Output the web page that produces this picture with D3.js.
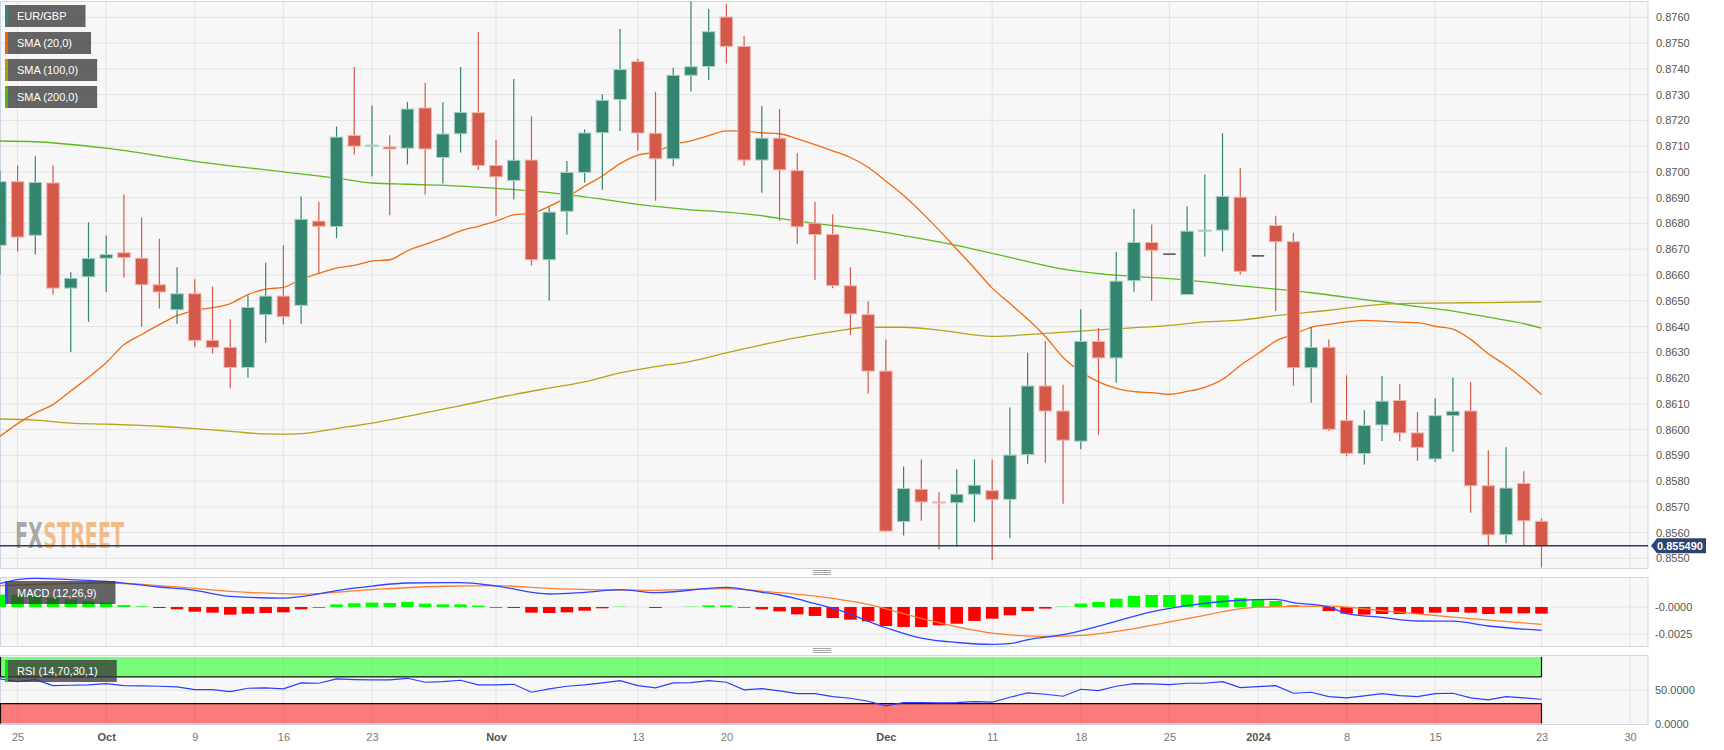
<!DOCTYPE html>
<html>
<head>
<meta charset="utf-8">
<script src="https://d3js.org/d3.v7.min.js"></script>
<style>
    body { margin: 0; background: #fff; }
    svg { display: block; font-family: "Liberation Sans", Arial, sans-serif; }
    .gridlines line { stroke: #e3e3e3; }
</style>
</head>
<body>
<svg id="chart" width="1724" height="750"></svg>
<script>
// ---- data (bar 0 = 22 Sep 2023, one bar per weekday) ----
const open = [
    0.86715, 0.86962, 0.86754, 0.86957, 0.86549, 0.86593, 0.86665, 0.86686, 0.86665, 0.86562,
    0.86465, 0.86527, 0.86346, 0.86319, 0.86241, 0.86446, 0.86518, 0.86482, 0.86809, 0.86788,
    0.87141, 0.87100, 0.87097, 0.87092, 0.87248, 0.87056, 0.87148, 0.87230, 0.87025, 0.86967,
    0.87046, 0.86659, 0.86847, 0.86998, 0.87152, 0.87281, 0.87428, 0.87150, 0.87051, 0.87375,
    0.87409, 0.87601, 0.87487, 0.87046, 0.87131, 0.87005, 0.86801, 0.86757, 0.86558, 0.86446,
    0.86227, 0.85643, 0.85768, 0.85719, 0.85716, 0.85749, 0.85763, 0.85729, 0.85903, 0.86169,
    0.86072, 0.85955, 0.86342, 0.86278, 0.86578, 0.86726, 0.86681, 0.86524, 0.86770, 0.86774,
    0.86902, 0.86674, 0.86792, 0.86729, 0.86240, 0.86319, 0.86035, 0.85907, 0.86018, 0.86113,
    0.85987, 0.85886, 0.86054, 0.86072, 0.85782, 0.85592, 0.85791, 0.85644
];
const high = [
    0.87004, 0.87025, 0.87061, 0.87025, 0.86611, 0.86804, 0.86753, 0.86912, 0.86823, 0.86741,
    0.86630, 0.86583, 0.86555, 0.86428, 0.86520, 0.86647, 0.86715, 0.86905, 0.86883, 0.87176,
    0.87407, 0.87258, 0.87142, 0.87272, 0.87346, 0.87270, 0.87407, 0.87544, 0.87124, 0.87361,
    0.87216, 0.86863, 0.87042, 0.87166, 0.87301, 0.87555, 0.87439, 0.87311, 0.87404, 0.87661,
    0.87632, 0.87651, 0.87527, 0.87255, 0.87244, 0.87072, 0.86883, 0.86835, 0.86630, 0.86498,
    0.86350, 0.85857, 0.85884, 0.85757, 0.85846, 0.85884, 0.85884, 0.86086, 0.86298, 0.86343,
    0.86174, 0.86467, 0.86394, 0.86689, 0.86856, 0.86796, 0.86681, 0.86867, 0.86990, 0.87150,
    0.87015, 0.86674, 0.86830, 0.86764, 0.86397, 0.86350, 0.86210, 0.86075, 0.86208, 0.86178,
    0.86068, 0.86121, 0.86202, 0.86185, 0.85920, 0.85931, 0.85838, 0.85655
];
const low = [
    0.86602, 0.86691, 0.86679, 0.86524, 0.86301, 0.86418, 0.86534, 0.86590, 0.86400, 0.86470,
    0.86411, 0.86319, 0.86295, 0.86160, 0.86202, 0.86337, 0.86408, 0.86411, 0.86606, 0.86743,
    0.87068, 0.86983, 0.86832, 0.87029, 0.86912, 0.86955, 0.87075, 0.87007, 0.86828, 0.86894,
    0.86637, 0.86501, 0.86757, 0.86959, 0.86931, 0.87159, 0.87082, 0.86888, 0.87022, 0.87312,
    0.87357, 0.87421, 0.87025, 0.86919, 0.86809, 0.86719, 0.86580, 0.86548, 0.86366, 0.86140,
    0.85602, 0.85589, 0.85646, 0.85535, 0.85545, 0.85641, 0.85493, 0.85578, 0.85867, 0.85871,
    0.85712, 0.85924, 0.85980, 0.86182, 0.86535, 0.86500, 0.86681, 0.86524, 0.86672, 0.86691,
    0.86602, 0.86674, 0.86460, 0.86171, 0.86104, 0.85994, 0.85896, 0.85864, 0.85956, 0.85956,
    0.85879, 0.85874, 0.85914, 0.85677, 0.85552, 0.85559, 0.85549, 0.85465
];
const close = [
    0.86962, 0.86747, 0.86959, 0.86549, 0.86587, 0.86664, 0.86679, 0.86668, 0.86562, 0.86534,
    0.86527, 0.86346, 0.86319, 0.86241, 0.86474, 0.86518, 0.86438, 0.86816, 0.86789, 0.87135,
    0.87100, 0.87104, 0.87089, 0.87244, 0.87089, 0.87147, 0.87231, 0.87025, 0.86981, 0.87045,
    0.86659, 0.86844, 0.86998, 0.87151, 0.87278, 0.87397, 0.87151, 0.87051, 0.87375, 0.87408,
    0.87544, 0.87487, 0.87046, 0.87131, 0.87008, 0.86787, 0.86757, 0.86559, 0.86449, 0.86227,
    0.85606, 0.85771, 0.85719, 0.85715, 0.85749, 0.85784, 0.85729, 0.85901, 0.86169, 0.86072,
    0.85959, 0.86342, 0.86278, 0.86576, 0.86726, 0.86696, 0.86681, 0.86770, 0.86774, 0.86905,
    0.86614, 0.86674, 0.86729, 0.86240, 0.86319, 0.86001, 0.85907, 0.86016, 0.86110, 0.85987,
    0.85931, 0.86054, 0.86071, 0.85782, 0.85592, 0.85773, 0.85646, 0.85549
];
const sma20 = [
    0.85973, 0.86023, 0.86065, 0.86097, 0.86150, 0.86202, 0.86260, 0.86329, 0.86369, 0.86407,
    0.86442, 0.86463, 0.86473, 0.86489, 0.86524, 0.86545, 0.86552, 0.86583, 0.86606, 0.86627,
    0.86637, 0.86654, 0.86659, 0.86694, 0.86719, 0.86743, 0.86771, 0.86789, 0.86809, 0.86833,
    0.86839, 0.86866, 0.86901, 0.86945, 0.86984, 0.87032, 0.87065, 0.87077, 0.87106, 0.87120,
    0.87141, 0.87159, 0.87158, 0.87152, 0.87148, 0.87128, 0.87106, 0.87082, 0.87056, 0.87018,
    0.86964, 0.86908, 0.86844, 0.86774, 0.86700, 0.86626, 0.86549, 0.86489, 0.86429, 0.86361,
    0.86280, 0.86225, 0.86185, 0.86160, 0.86147, 0.86143, 0.86137, 0.86148, 0.86164, 0.86195,
    0.86249, 0.86295, 0.86343, 0.86369, 0.86397, 0.86408, 0.86418, 0.86424, 0.86421, 0.86417,
    0.86415, 0.86401, 0.86390, 0.86350, 0.86294, 0.86249, 0.86195, 0.86136
];
// [bar, value] read where the line was clear
const sma100 = [
    [0, 0.86041], [2, 0.86037], [4, 0.86025], [6, 0.86021], [8, 0.86016], [11, 0.86004], [13, 0.85993],
    [15, 0.85983], [16, 0.85982], [17, 0.85984], [19, 0.86004], [21, 0.86025], [23, 0.86051], [25, 0.86079],
    [27, 0.86107], [29, 0.86136], [31, 0.86161], [33, 0.86185], [35, 0.86220], [37, 0.86244], [39, 0.86265],
    [41, 0.86298], [43, 0.86329], [45, 0.86357], [47, 0.86380], [49, 0.86397], [51, 0.86397], [53, 0.86386],
    [56, 0.86362], [59, 0.86373], [62, 0.86387], [66, 0.86404], [68, 0.86418], [70, 0.86425], [72, 0.86442],
    [75, 0.86463], [78, 0.86486], [81, 0.86491], [84, 0.86493], [87, 0.86496]
];
const sma200 = [
    [0, 0.87120], [2, 0.87117], [6, 0.87092], [11, 0.87041], [16, 0.87000], [19, 0.86976], [21, 0.86957],
    [23, 0.86952], [26, 0.86945], [28, 0.86936], [30, 0.86926], [32, 0.86912], [34, 0.86894], [36, 0.86874],
    [37, 0.86866], [39, 0.86853], [41, 0.86844], [43, 0.86830], [45, 0.86809], [47, 0.86792], [49, 0.86775],
    [51, 0.86753], [54, 0.86715], [57, 0.86668], [60, 0.86623], [63, 0.86599], [66, 0.86586], [68, 0.86573],
    [70, 0.86558], [72, 0.86545], [74, 0.86531], [76, 0.86513], [78, 0.86496], [80, 0.86477], [82, 0.86460],
    [84, 0.86436], [86, 0.86411], [87, 0.86394]
];
const macdLine = [
    [0, 0.00214], [1, 0.00250], [2, 0.00263], [4, 0.00250], [6, 0.00235], [9, 0.00183], [11, 0.00153],
    [13, 0.00098], [16, 0.00082], [18, 0.00120], [19, 0.00150], [21, 0.00192], [23, 0.00220], [26, 0.00223],
    [28, 0.00192], [31, 0.00119], [33, 0.00133], [35, 0.00159], [37, 0.00131], [41, 0.00180], [43, 0.00135],
    [44, 0.00110], [45, 0.00075], [46, 0.00030], [47, -0.00010], [50, -0.00190], [52, -0.00285], [54, -0.00325],
    [56, -0.00342], [57, -0.00335], [58, -0.00300], [60, -0.00253], [62, -0.00175], [65, -0.00045], [67, 0.00012],
    [70, 0.00062], [72, 0.00070], [73, 0.00040], [75, 0.00000], [76, -0.00060], [78, -0.00095], [80, -0.00128],
    [82, -0.00130], [84, -0.00174], [87, -0.00214]
];
const macdSignal = [
    [0, 0.00195], [4, 0.00215], [6, 0.00220], [9, 0.00196], [13, 0.00143], [17, 0.00118], [21, 0.00160],
    [25, 0.00190], [28, 0.00195], [31, 0.00170], [34, 0.00157], [37, 0.00153], [41, 0.00168], [43, 0.00145],
    [46, 0.00100], [49, 0.00025], [52, -0.00105], [56, -0.00240], [59, -0.00269], [61, -0.00260], [63, -0.00223],
    [67, -0.00107], [71, -0.00002], [75, 0.00008], [78, -0.00033], [82, -0.00092], [87, -0.00159]
];
const macdHist = [
    0.00113, 0.00110, 0.00100, 0.00085, 0.00070, 0.00052, 0.00040, 0.00018, 0.00006, -0.00009,
    -0.00021, -0.00043, -0.00052, -0.00070, -0.00061, -0.00055, -0.00049, -0.00021, -0.00006, 0.00024,
    0.00034, 0.00040, 0.00037, 0.00046, 0.00031, 0.00024, 0.00024, 0.00012, -0.00006, -0.00009,
    -0.00052, -0.00055, -0.00049, -0.00034, -0.00012, 0.00003, 0, -0.00009, 0, 0.00003,
    0.00015, 0.00015, -0.00006, -0.00021, -0.00040, -0.00067, -0.00082, -0.00101, -0.00116, -0.00131,
    -0.00174, -0.00183, -0.00183, -0.00168, -0.00153, -0.00128, -0.00107, -0.00076, -0.00037, -0.00015,
    0.00003, 0.00031, 0.00046, 0.00076, 0.00101, 0.00110, 0.00110, 0.00113, 0.00107, 0.00107,
    0.00082, 0.00067, 0.00055, 0.00018, 0.00003, -0.00037, -0.00061, -0.00070, -0.00064, -0.00064,
    -0.00064, -0.00052, -0.00046, -0.00052, -0.00064, -0.00058, -0.00058, -0.00061
];
const rsi = [
    67, 63, 66, 57, 57.5, 58, 60, 57, 56.5, 56,
    55, 51, 51, 48, 53, 53.5, 52, 61, 60.5, 67,
    66, 65.5, 65.5, 68, 62, 63, 65, 58, 58, 59,
    47, 52, 56, 58, 61, 64.5, 57, 53.5, 61, 61.5,
    64.5, 62, 50.5, 52.5, 49, 45, 45, 40.5, 38, 33.5,
    26.5, 31.5, 31.5, 31, 31.5, 33, 32, 39.5, 46, 44,
    41, 51.5, 49.5, 56, 60, 59.5, 58.5, 60.5, 60.5, 63,
    54, 55.5, 57, 45.5, 47, 40.5, 38.5, 41.5, 45, 42,
    40.5, 45, 45.5, 38.5, 35.5, 40.5, 38.5, 36.5
];
const lastPrice = 0.855490;

const tickDates = ["2023-09-25", "2023-10-02", "2023-10-09", "2023-10-16", "2023-10-23", "2023-11-01",
    "2023-11-13", "2023-11-20", "2023-12-01", "2023-12-11", "2023-12-18", "2023-12-25", "2024-01-01",
    "2024-01-08", "2024-01-15", "2024-01-23", "2024-01-30"];
const tickLabels = ["25", "Oct", "9", "16", "23", "Nov", "13", "20", "Dec", "11", "18", "25", "2024", "8", "15", "23", "30"];
const boldLabels = ["Oct", "Nov", "Dec", "2024"];
const priceTicks = d3.range(0, 22).map(j => +(0.855 + j * 0.001).toFixed(3));
const macdTicks = [0, -0.0025];
const rsiTicks = [50, 0];

const legendItems = [
    {label: "EUR/GBP", color: "#2e8a75"},
    {label: "SMA (20,0)", color: "#f06400"},
    {label: "SMA (100,0)", color: "#b29c00"},
    {label: "SMA (200,0)", color: "#55b800"}
];

// ---- layout ----
const svg = d3.select("svg#chart");
const plotRight = 1648;
const paneMain = [1, 568], paneMacd = [577, 646], paneRsi = [655, 724];

// weekday calendar
const fmt = d3.utcFormat("%Y-%m-%d");
const dates = d3.utcDay.range(new Date(Date.UTC(2023, 8, 22)), new Date(Date.UTC(2024, 1, 1)))
    .filter(d => d.getUTCDay() % 6 !== 0);
const barOf = s => dates.findIndex(d => fmt(d) === s);
const tickBars = tickDates.map(barOf);

const x = d3.scaleLinear().domain([1, 87]).range([17.6, 1541.5]);
const yPrice = d3.scaleLinear().domain([0.855, 0.876]).range([558.4, 17.3]);
const yMacd = d3.scaleLinear().domain([-0.0025, 0]).range([634.3, 607]);
const yRsi = d3.scaleLinear().domain([0, 100]).range([723.5, 657]);

const defs = svg.append("defs");
[["clipMain", paneMain], ["clipMacd", paneMacd], ["clipRsi", paneRsi]].forEach(([id, p]) => {
    defs.append("clipPath").attr("id", id).append("rect")
        .attr("x", 0).attr("y", p[0]).attr("width", plotRight).attr("height", p[1] - p[0]);
});

// pane backgrounds
[paneMain, paneMacd, paneRsi].forEach(p => {
    svg.append("rect").attr("x", 0.5).attr("y", p[0] + 0.5)
        .attr("width", plotRight - 0.5).attr("height", p[1] - p[0])
        .attr("fill", "#f7f7f7").attr("stroke", "#cfd5e4");
});

// gridlines
const grid = svg.append("g").attr("class", "gridlines");
[paneMain, paneMacd, paneRsi].forEach(p => {
    grid.selectAll(null).data(tickBars).enter().append("line")
        .attr("x1", d => x(d)).attr("x2", d => x(d))
        .attr("y1", p[0] + 1).attr("y2", p[1]);
});
grid.selectAll(null).data(priceTicks).enter().append("line")
    .attr("x1", 1).attr("x2", plotRight).attr("y1", d => yPrice(d)).attr("y2", d => yPrice(d));
grid.selectAll(null).data(macdTicks).enter().append("line")
    .attr("x1", 1).attr("x2", plotRight).attr("y1", d => yMacd(d)).attr("y2", d => yMacd(d));
grid.selectAll(null).data(rsiTicks.filter(d => d > 0)).enter().append("line")
    .attr("x1", 1).attr("x2", plotRight).attr("y1", d => yRsi(d)).attr("y2", d => yRsi(d));

// watermark: squeezed horizontally to ~109px, second word starts where the first ends
const wm = svg.append("g")
    .attr("font-family", "'Liberation Sans Narrow', 'DejaVu Sans Condensed', sans-serif")
    .attr("font-weight", "bold").attr("font-size", 36);
const wmFx = wm.append("text").attr("x", 0).text("FX")
    .attr("fill", "#8f8f8f").attr("fill-opacity", 0.75);
const fxW = wmFx.node().getComputedTextLength();
const wmSt = wm.append("text").attr("x", fxW + 1).text("STREET")
    .attr("fill", "#f2b274").attr("fill-opacity", 0.85);
const wmScale = 109 / (fxW + 1 + wmSt.node().getComputedTextLength());
wm.attr("transform", `translate(15,548) scale(${wmScale},1)`);

// ---- main pane ----
const main = svg.append("g").attr("clip-path", "url(#clipMain)");

const priceLine = d3.line().x(d => x(d[0])).y(d => yPrice(d[1])).curve(d3.curveMonotoneX);
main.append("path").datum(sma200).attr("d", priceLine)
    .attr("fill", "none").attr("stroke", "#5cba1e").attr("stroke-width", 1.3);
main.append("path").datum(sma100).attr("d", priceLine)
    .attr("fill", "none").attr("stroke", "#b8a419").attr("stroke-width", 1.3);
main.append("path").datum(sma20.map((v, k) => [k, v])).attr("d", priceLine)
    .attr("fill", "none").attr("stroke", "#f26b12").attr("stroke-width", 1.3);

const bars = open.map((o, k) => ({k, o, h: high[k], l: low[k], c: close[k]}));
const upFill = "#33856f", upEdge = "#a9d2c7", downFill = "#d5594a", downEdge = "#f1b6ad";
const bodyW = 12.5;

const candle = main.selectAll("g.candle").data(bars).enter().append("g").attr("class", "candle");
candle.filter(d => d.h !== d.l).append("line")
    .attr("x1", d => x(d.k)).attr("x2", d => x(d.k))
    .attr("y1", d => yPrice(d.h)).attr("y2", d => yPrice(d.l))
    .attr("stroke", d => d.c >= d.o ? upFill : downFill).attr("stroke-width", 1.2);
candle.filter(d => d.h !== d.l).append("rect")
    .attr("x", d => x(d.k) - bodyW / 2)
    .attr("y", d => yPrice(Math.max(d.o, d.c)))
    .attr("width", bodyW)
    .attr("height", d => Math.max(1, yPrice(Math.min(d.o, d.c)) - yPrice(Math.max(d.o, d.c))))
    .attr("fill", d => d.c >= d.o ? upFill : downFill)
    .attr("stroke", d => d.c >= d.o ? upEdge : downEdge).attr("stroke-width", 1);
// holiday bars with no range
candle.filter(d => d.h === d.l).append("line")
    .attr("x1", d => x(d.k) - bodyW / 2).attr("x2", d => x(d.k) + bodyW / 2)
    .attr("y1", d => yPrice(d.c)).attr("y2", d => yPrice(d.c))
    .attr("stroke", "#222").attr("stroke-width", 1.2);

// current price line
svg.append("line").attr("x1", 0).attr("x2", plotRight)
    .attr("y1", yPrice(lastPrice)).attr("y2", yPrice(lastPrice))
    .attr("stroke", "#2c3e5e").attr("stroke-width", 1.3);

// ---- MACD pane ----
const macdG = svg.append("g").attr("clip-path", "url(#clipMacd)");
macdG.selectAll("rect").data(macdHist).enter().append("rect")
    .attr("x", (d, k) => x(k) - bodyW / 2)
    .attr("y", d => yMacd(Math.max(0, d)))
    .attr("width", bodyW)
    .attr("height", d => Math.abs(yMacd(d) - yMacd(0)))
    .attr("fill", d => d >= 0 ? "#00ff00" : "#ff0000");
const macdPath = d3.line().x(d => x(d[0])).y(d => yMacd(d[1])).curve(d3.curveMonotoneX);
macdG.append("path").datum(macdSignal).attr("d", macdPath)
    .attr("fill", "none").attr("stroke", "#ff7f2a").attr("stroke-width", 1.3);
macdG.append("path").datum(macdLine).attr("d", macdPath)
    .attr("fill", "none").attr("stroke", "#2f45ff").attr("stroke-width", 1.3);

// ---- RSI pane ----
const rsiG = svg.append("g").attr("clip-path", "url(#clipRsi)");
const bandEnd = x(87);
rsiG.append("rect").attr("x", 0).attr("y", yRsi(100)).attr("width", bandEnd).attr("height", yRsi(70) - yRsi(100))
    .attr("fill", "rgba(0,255,0,0.5)");
rsiG.append("rect").attr("x", 0).attr("y", yRsi(30)).attr("width", bandEnd).attr("height", yRsi(0) - yRsi(30))
    .attr("fill", "rgba(255,0,0,0.5)");
[[70, 100], [0, 30]].forEach(([a, b]) => {
    rsiG.append("path")
        .attr("d", `M0.5,${yRsi(b)}V${yRsi(a)}M${bandEnd},${yRsi(b)}V${yRsi(a)}`)
        .attr("stroke", "#111").attr("stroke-width", 1.2).attr("fill", "none");
});
[70, 30].forEach(v => {
    rsiG.append("line").attr("x1", 0).attr("x2", bandEnd).attr("y1", yRsi(v)).attr("y2", yRsi(v))
        .attr("stroke", "#111").attr("stroke-width", 1.2);
});
rsiG.append("path").datum(rsi.map((v, k) => [k, v]))
    .attr("d", d3.line().x(d => x(d[0])).y(d => yRsi(d[1])))
    .attr("fill", "none").attr("stroke", "#2a3dff").attr("stroke-width", 1.2);

// ---- axes ----
const fixMinus = s => s.replace("\u2212", "-");
const styleAxis = g => {
    g.select(".domain").remove();
    g.selectAll("text").attr("fill", "#555").attr("font-size", 11)
        .attr("font-family", "'Liberation Sans', Arial, sans-serif");
};
svg.append("g").attr("transform", `translate(${plotRight},0)`)
    .call(d3.axisRight(yPrice).tickValues(priceTicks).tickSize(0).tickPadding(8).tickFormat(d3.format(".4f")))
    .call(styleAxis);
svg.append("g").attr("transform", `translate(${plotRight},0)`)
    .call(d3.axisRight(yMacd).tickValues(macdTicks).tickSize(0).tickPadding(7)
        .tickFormat(d => d === 0 ? "-0.0000" : fixMinus(d3.format(".4f")(d))))
    .call(styleAxis);
svg.append("g").attr("transform", `translate(${plotRight},0)`)
    .call(d3.axisRight(yRsi).tickValues(rsiTicks).tickSize(0).tickPadding(7).tickFormat(d3.format(".4f")))
    .call(styleAxis);
svg.append("g").attr("transform", `translate(0,${paneRsi[1]})`)
    .call(d3.axisBottom(x).tickValues(tickBars).tickSize(0).tickPadding(9).tickFormat((d, i) => tickLabels[i]))
    .call(styleAxis)
    .call(g => g.selectAll("text")
        .attr("fill", (d, i) => boldLabels.includes(tickLabels[i]) ? "#555" : "#777")
        .attr("font-weight", (d, i) => boldLabels.includes(tickLabels[i]) ? "bold" : "normal"));

// last price tag
const tagY = yPrice(lastPrice);
svg.append("path")
    .attr("d", `M1651,${tagY} L1657,${tagY - 7.5} H1706 V${tagY + 7.5} H1657 Z`)
    .attr("fill", "#2b4570");
svg.append("text").attr("x", 1657).attr("y", tagY + 4).text(lastPrice.toFixed(6))
    .attr("fill", "#fff").attr("font-size", 11).attr("font-weight", "bold");

// ---- legend boxes ----
function labelBox(x0, y0, h, text, color) {
    const g = svg.append("g");
    const rect = g.append("rect").attr("x", x0).attr("y", y0).attr("height", h).attr("fill", "rgba(54,54,54,0.76)");
    const t = g.append("text").attr("x", x0 + 12).attr("y", y0 + h / 2 + 4).text(text)
        .attr("fill", "#fff").attr("font-size", 11);
    rect.attr("width", t.node().getComputedTextLength() + 31);
    g.append("rect").attr("x", x0).attr("y", y0).attr("width", 3).attr("height", h).attr("fill", color);
}
legendItems.forEach((d, i) => labelBox(5, 5 + i * 27, 22, d.label, d.color));
labelBox(5, 581, 23, "MACD (12,26,9)", "#2f45ff");
labelBox(5, 660, 22, "RSI (14,70,30,1)", "#00e600");

// pane resize handles
[572.5, 650.5].forEach(cy => {
    svg.selectAll(null).data([-2, 0, 2]).enter().append("line")
        .attr("x1", 813).attr("x2", 831).attr("y1", d => cy + d).attr("y2", d => cy + d)
        .attr("stroke", "#8a8a8a").attr("stroke-width", 0.8);
});
</script>
</body>
</html>
